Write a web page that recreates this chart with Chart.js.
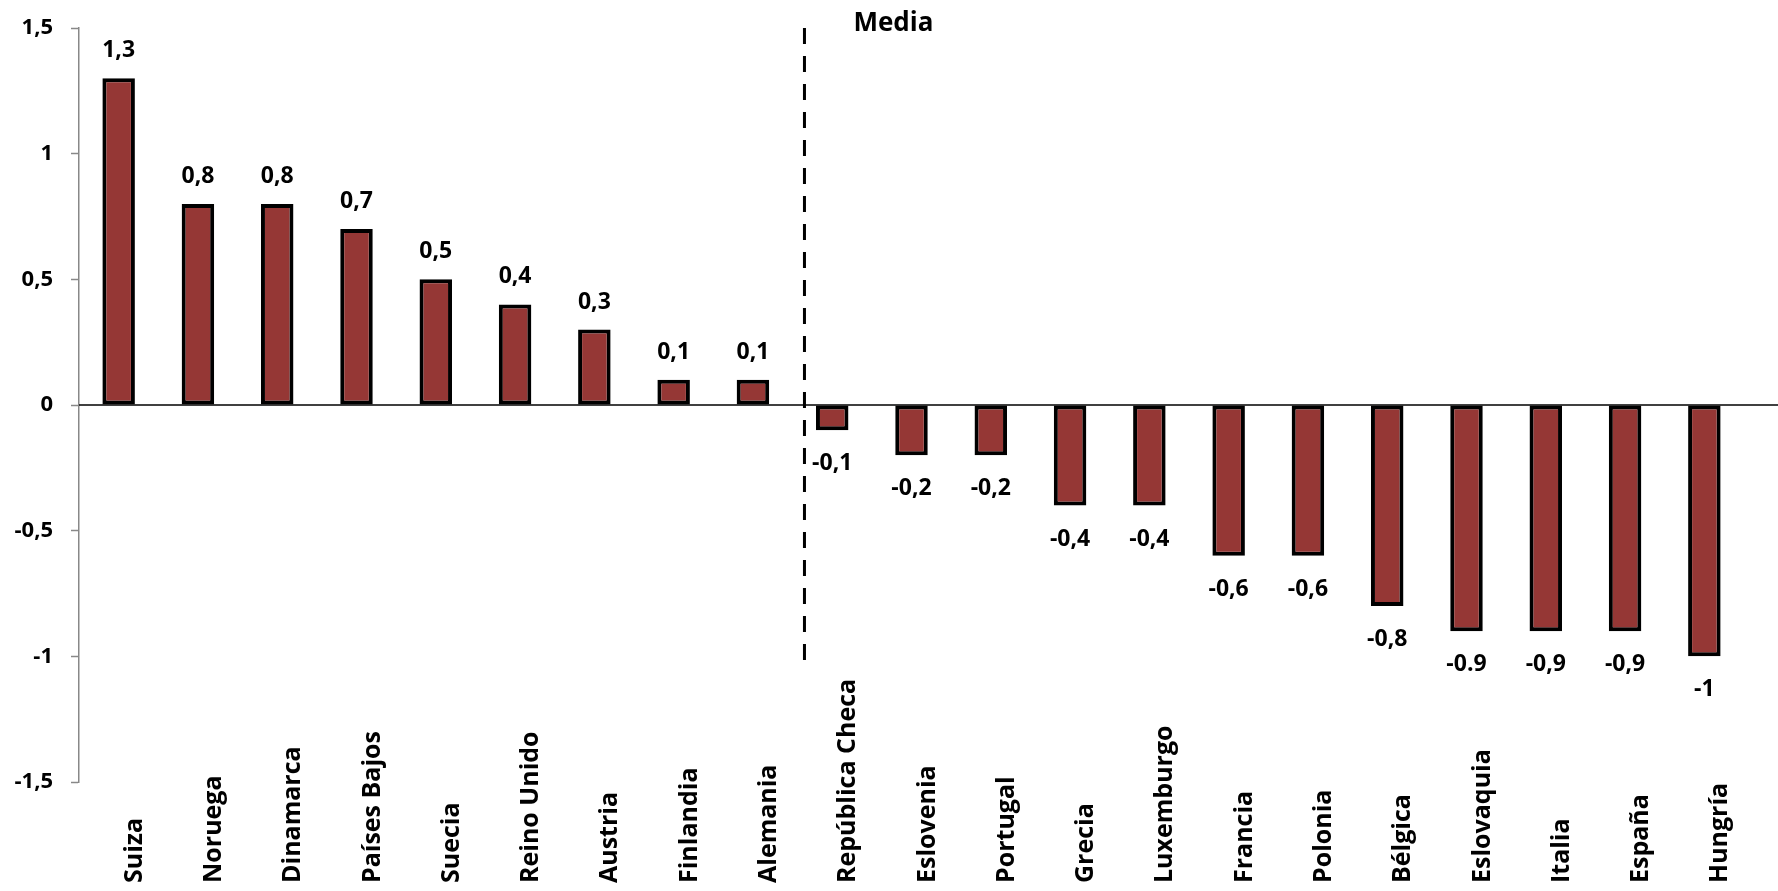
<!DOCTYPE html>
<html>
<head>
<meta charset="utf-8">
<script src="https://cdn.jsdelivr.net/npm/chart.js@4.4.1/dist/chart.umd.min.js"></script>
<style>
  html, body { margin: 0; padding: 0; background: #fff; }
  #wrap { width: 1778px; height: 891px; }
</style>
</head>
<body>
<div id="wrap"><canvas id="bar-chartcanvas"></canvas></div>
<script>
// categories (countries)
var categories = ["Suiza", "Noruega", "Dinamarca", "Países Bajos", "Suecia", "Reino Unido", "Austria", "Finlandia", "Alemania",
    "República Checa", "Eslovenia", "Portugal", "Grecia", "Luxemburgo", "Francia", "Polonia", "Bélgica", "Eslovaquia", "Italia", "España", "Hungría"];

// series values
var values = [1.3, 0.8, 0.8, 0.7, 0.5, 0.4, 0.3, 0.1, 0.1,
    -0.1, -0.2, -0.2, -0.4, -0.4, -0.6, -0.6, -0.8, -0.9, -0.9, -0.9, -1];

// labels printed on the bars (as in the original, incl. the "-0.9")
var valueLabels = ["1,3", "0,8", "0,8", "0,7", "0,5", "0,4", "0,3", "0,1", "0,1",
    "-0,1", "-0,2", "-0,2", "-0,4", "-0,4", "-0,6", "-0,6", "-0,8", "-0.9", "-0,9", "-0,9", "-1"];

// y axis range
var yMin = -1.5;
var yMax = 1.5;
var yStep = 0.5;

// "Media" marker (between Alemania and República Checa)
var mediaText = "Media";
var mediaIndex = 8.65;
var mediaTop = 1.5;
var mediaBottom = -1.02;

var FONT = "'Open Sans', sans-serif";

// draws zero line, media line, value labels and category labels
var extrasPlugin = {
    id: "extras",
    afterDatasetsDraw: function(chart) {
        var ctx = chart.ctx;
        var x = chart.scales.x;
        var y = chart.scales.y;
        var area = chart.chartArea;

        //zero line
        var y0 = y.getPixelForValue(0);
        ctx.save();
        ctx.strokeStyle = "#000";
        ctx.lineWidth = 1.5;
        ctx.beginPath();
        ctx.moveTo(area.left, y0);
        ctx.lineTo(chart.width, y0);
        ctx.stroke();

        //media dashed line
        var mx = x.getPixelForValue(mediaIndex);
        ctx.lineWidth = 3;
        ctx.setLineDash([16, 12]);
        ctx.beginPath();
        ctx.moveTo(mx, y.getPixelForValue(mediaTop));
        ctx.lineTo(mx, y.getPixelForValue(mediaBottom));
        ctx.stroke();
        ctx.setLineDash([]);

        ctx.fillStyle = "#000";
        ctx.font = "bold 26px " + FONT;
        ctx.textAlign = "left";
        ctx.textBaseline = "alphabetic";
        ctx.fillText(mediaText, mx + 49, 31);

        //value labels
        var meta = chart.getDatasetMeta(0);
        ctx.font = "bold 23px " + FONT;
        ctx.textAlign = "center";
        meta.data.forEach(function(bar, i) {
            var ty = values[i] >= 0 ? bar.y - 21 : bar.y + 40;
            ctx.fillText(valueLabels[i], bar.x, ty);
        });

        //category labels, rotated, aligned at the bottom
        ctx.font = "bold 25px " + FONT;
        categories.forEach(function(c, i) {
            var px = x.getPixelForValue(i);
            ctx.save();
            ctx.translate(px + 23, 883);
            ctx.rotate(-Math.PI / 2);
            ctx.textAlign = "left";
            ctx.textBaseline = "alphabetic";
            ctx.fillText(c, 0, 0);
            ctx.restore();
        });
        ctx.restore();
    }
};

var ctx1 = document.getElementById("bar-chartcanvas");

var data1 = {
    labels: categories,
    datasets: [
        {
            data: values,
            backgroundColor: "#953735",
            borderColor: "#000000",
            borderWidth: 4,
            borderSkipped: false,
            categoryPercentage: 1,
            barPercentage: 0.41
        }
    ]
};

var chart1 = new Chart(ctx1, {
    type: "bar",
    data: data1,
    plugins: [extrasPlugin],
    options: {
        responsive: true,
        maintainAspectRatio: false,
        animation: false,
        layout: { padding: { top: 28, bottom: 109, left: 0, right: 34 } },
        plugins: {
            legend: { display: false },
            tooltip: { enabled: false }
        },
        scales: {
            x: { display: false },
            y: {
                min: yMin,
                max: yMax,
                afterFit: function(scale) {
                    scale.width = 79;
                    scale.paddingTop = 0;
                    scale.paddingBottom = 0;
                },
                border: { display: true, color: "#888", width: 1.5 },
                grid: { drawOnChartArea: false, drawTicks: true, tickLength: 8, tickColor: "#888", tickWidth: 1.5 },
                ticks: {
                    stepSize: yStep,
                    padding: 18,
                    color: "#000",
                    font: { family: FONT, size: 22, weight: "bold" },
                    callback: function(v) { return String(v).replace(".", ","); }
                }
            }
        }
    }
});
</script>
</body>
</html>
